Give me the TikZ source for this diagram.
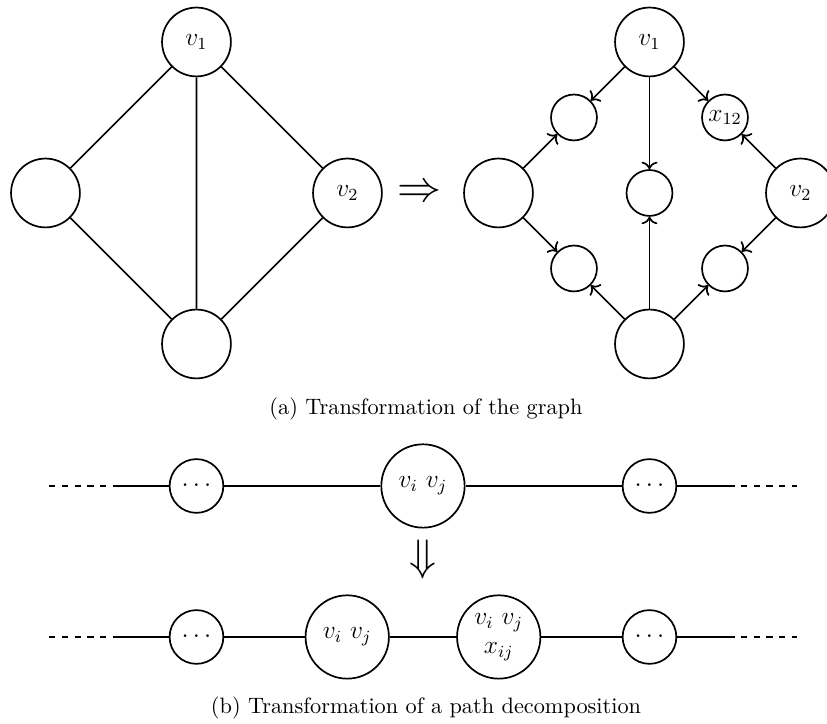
\documentclass[tikz,border=0pt]{standalone}
\usetikzlibrary{positioning}
\usetikzlibrary{calc}
\usetikzlibrary{arrows.meta}

\begin{document}
\begin{tikzpicture}[thick,
    every node/.style={font=\fontsize{11.5}{13.5}\selectfont},
    vertex/.style={draw, circle, minimum size=1.14cm, inner sep=0},
    edgevertex/.style={draw, circle, minimum size=0.76cm, inner sep=0},
    bag/.style={draw, circle, minimum size=1.38cm, inner sep=0, align=center},
    dotbag/.style={draw, circle, minimum size=0.89cm, inner sep=0},
    caption/.style={font=\fontsize{10.5}{12}\selectfont}]
    \newcommand\gap{2.5}
    \newcommand\half{3.75}
    \newcommand\rowone{-4.851}
    \newcommand\rowtwo{-7.351}

    \useasboundingbox (-7.003, 3.195) rectangle (6.689, -8.791);

    % the graph
    \node[vertex] (g-top) at (-\half, \gap) {$v_1$};
    \node[vertex] (g-left) at (-\half - \gap, 0) {};
    \node[vertex] (g-right) at (-\half + \gap, 0) {$v_2$};
    \node[vertex] (g-bottom) at (-\half, -\gap) {};

    \draw (g-top) -- (g-left) -- (g-bottom) -- (g-right) -- (g-top) -- (g-bottom);

    \node (implies) at (-0.05, 0) {\huge $\Rightarrow$};

    % the transformed graph
    \node[vertex] (h-top) at (\half, \gap) {$v_1$};
    \node[vertex] (h-left) at (\half - \gap, 0) {};
    \node[vertex] (h-right) at (\half + \gap, 0) {$v_2$};
    \node[vertex] (h-bottom) at (\half, -\gap) {};

    \node[edgevertex] (h-tl) at ($(h-top)!.5!(h-left)$) {};
    \node[edgevertex] (h-tr) at ($(h-top)!.5!(h-right)$) {$x_{12}$};
    \node[edgevertex] (h-bl) at ($(h-bottom)!.5!(h-left)$) {};
    \node[edgevertex] (h-br) at ($(h-bottom)!.5!(h-right)$) {};
    \node[edgevertex] (h-c) at (\half, 0) {};

    \foreach \from/\to in {top/tl, top/tr, top/c, left/tl, left/bl,
                           bottom/bl, bottom/c, bottom/br, right/tr, right/br}
        \draw[-{To[length=3.5pt, width=7.5pt]}] (h-\from) -- (h-\to);

    \node[caption] (cap-a) at (0.05, -3.576) {(a) Transformation of the graph};

    % the path decomposition
    \node[dotbag] (p-left) at (-\half, \rowone) {$\cdots$};
    \node[bag] (p-mid) at (0, \rowone) {$v_i$ $v_j$};
    \node[dotbag] (p-right) at (\half, \rowone) {$\cdots$};

    \coordinate (p-far-l) at (-6.19, \rowone);
    \coordinate (p-near-l) at (-5.13, \rowone);
    \coordinate (p-near-r) at (5.13, \rowone);
    \coordinate (p-far-r) at (6.19, \rowone);

    \draw[dashed] (p-far-l) -- (p-left);
    \draw[dashed] (p-right) -- (p-far-r);
    \draw (p-near-l) -- (p-left) -- (p-mid) -- (p-right) -- (p-near-r);

    \node (step) at (0, -6.076) {\huge $\Downarrow$};

    \node[dotbag] (q-left) at (-\half, \rowtwo) {$\cdots$};
    \node[bag] (q-a) at (-1.254, \rowtwo) {$v_i$ $v_j$};
    \node[bag] (q-b) at (1.254, \rowtwo) {$v_i$ $v_j$\\$x_{ij}$};
    \node[dotbag] (q-right) at (\half, \rowtwo) {$\cdots$};

    \coordinate (q-far-l) at (-6.19, \rowtwo);
    \coordinate (q-near-l) at (-5.13, \rowtwo);
    \coordinate (q-near-r) at (5.13, \rowtwo);
    \coordinate (q-far-r) at (6.19, \rowtwo);

    \draw[dashed] (q-far-l) -- (q-left);
    \draw[dashed] (q-right) -- (q-far-r);
    \draw (q-near-l) -- (q-left) -- (q-a) -- (q-b) -- (q-right) -- (q-near-r);

    \node[caption] (cap-b) at (0.05, -8.526) {(b) Transformation of a path decomposition};
\end{tikzpicture}
\end{document}
